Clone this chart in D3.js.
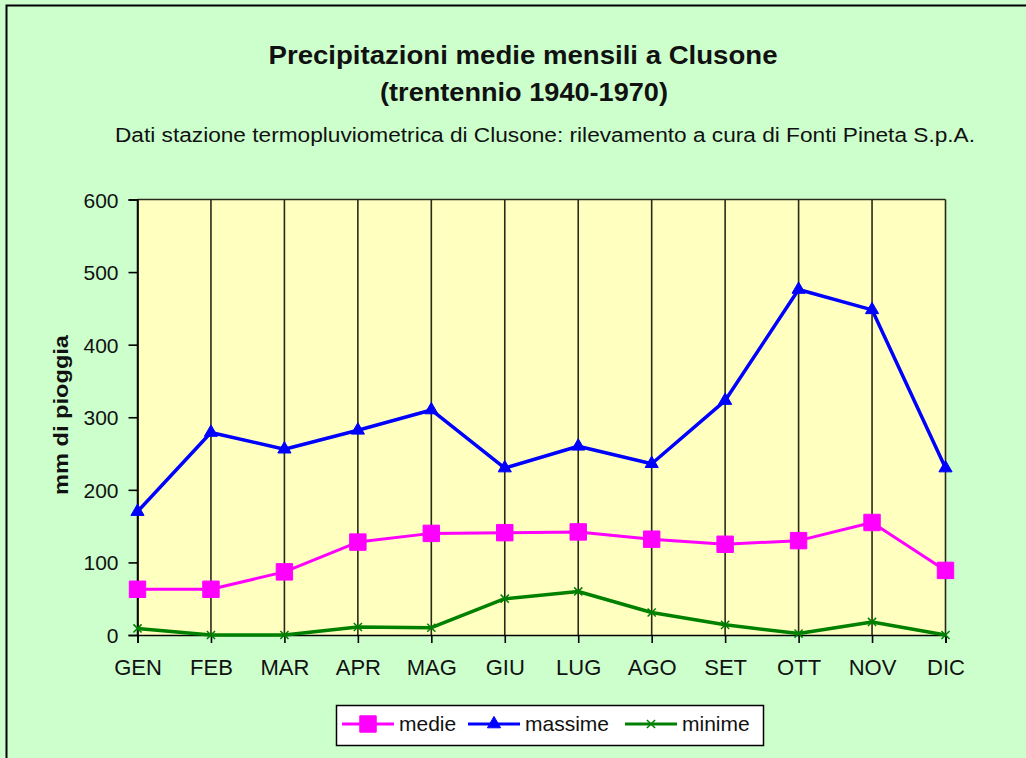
<!DOCTYPE html>
<html>
<head>
<meta charset="utf-8">
<script src="https://cdn.jsdelivr.net/npm/d3@7"></script>
<style>
  body { margin: 0; background: #ccffcc; }
  svg { display: block; font-family: "Liberation Sans", Arial, sans-serif; }
</style>
</head>
<body>
<div id="chart"></div>
<script>
"use strict"

// DATA
const months = ["GEN", "FEB", "MAR", "APR", "MAG", "GIU", "LUG", "AGO", "SET", "OTT", "NOV", "DIC"];
const medie   = [63, 63, 87, 128, 140, 141, 142, 132, 125, 130, 155, 89];
const massime = [170, 279, 256, 282, 310, 230, 260, 236, 323, 476, 448, 230];
const minime  = [9, 0, 0, 11, 10, 50, 60, 31, 14, 2, 18, 0];
const yTicks  = [0, 100, 200, 300, 400, 500, 600];

const series = [
    {name: "medie", values: medie, color: "#ff00ff", marker: "square", width: 3},
    {name: "massime", values: massime, color: "#0000ff", marker: "triangle", width: 3.5},
    {name: "minime", values: minime, color: "#008000", marker: "star", width: 3.5}
];

/* SETUP
 */
const W = 1026, H = 758;
const plot = {left: 137.5, right: 945.5, top: 199.5, bottom: 635};

const svg = d3.select("#chart").append("svg")
    .attr("width", W)
    .attr("height", H);

svg.append("rect")
    .attr("width", W).attr("height", H)
    .attr("fill", "#ccffcc");

// outer frame (only left and top edges visible)
svg.append("path")
    .attr("d", `M6.5,${H} V5.5 H${W}`)
    .attr("fill", "none")
    .attr("stroke", "#000")
    .attr("stroke-width", 2);

const x = d3.scalePoint()
    .domain(months)
    .range([plot.left, plot.right]);

const y = d3.scaleLinear()
    .domain([0, 600])
    .range([plot.bottom, plot.top]);

// plot area
svg.append("rect")
    .attr("x", plot.left).attr("y", plot.top)
    .attr("width", plot.right - plot.left)
    .attr("height", plot.bottom - plot.top)
    .attr("fill", "#ffffc0");

// vertical gridlines
svg.append("g")
    .selectAll("line")
    .data(months)
    .enter().append("line")
    .attr("x1", (d) => x(d)).attr("x2", (d) => x(d))
    .attr("y1", plot.top).attr("y2", plot.bottom)
    .attr("stroke", "#2a2a1a")
    .attr("stroke-width", 1.6);

// top border of the plot
svg.append("line")
    .attr("x1", plot.left).attr("x2", plot.right)
    .attr("y1", plot.top).attr("y2", plot.top)
    .attr("stroke", "#2a2a1a").attr("stroke-width", 1.6);

// axes
const xAxis = svg.append("g")
    .attr("transform", `translate(0,${plot.bottom})`)
    .call(d3.axisBottom(x).tickSize(8).tickPadding(16));

const yAxis = svg.append("g")
    .attr("transform", `translate(${plot.left},0)`)
    .call(d3.axisLeft(y).tickValues(yTicks).tickSize(9).tickPadding(10));

[xAxis, yAxis].forEach((ax) => {
    ax.select(".domain").attr("stroke", "#000").attr("stroke-width", 1.6);
    ax.selectAll(".tick line").attr("stroke", "#000").attr("stroke-width", 1.6);
    ax.selectAll(".tick text")
        .attr("fill", "#111")
        .style("font-size", "21px")
        .style("font-family", "'Liberation Sans', Arial, sans-serif");
});
xAxis.selectAll(".tick text").style("font-size", "22px");
yAxis.selectAll(".tick text").attr("dy", "0.36em");

// lines
const line = d3.line()
    .x((d, i) => x(months[i]))
    .y((d) => y(d));

const markerPath = {
    square: d3.symbol().type(d3.symbolSquare).size(270)(),
    triangle: d3.symbol().type(d3.symbolTriangle).size(75)(),
    star: d3.symbol().type(d3.symbolTimes).size(45)()
};

series.forEach((s) => {
    const g = svg.append("g").attr("class", "series");
    g.append("path")
        .attr("d", line(s.values))
        .attr("fill", "none")
        .attr("stroke", s.color)
        .attr("stroke-width", s.width)
        .attr("stroke-linejoin", "round");
    g.selectAll(".mark")
        .data(s.values)
        .enter().append("path")
        .attr("class", "mark")
        .attr("d", markerPath[s.marker])
        .attr("transform", (d, i) => `translate(${x(months[i])},${y(d)})`)
        .attr("fill", s.color)
        .attr("stroke", s.color)
        .attr("stroke-width", s.marker == "star" ? 1.5 : 1);
});

// text with a fixed width, the original font is rendered wide
function label(cx, cy, txt, size, width, bold) {
    return svg.append("text")
        .attr("x", cx).attr("y", cy)
        .attr("text-anchor", "middle")
        .attr("textLength", width)
        .attr("lengthAdjust", "spacingAndGlyphs")
        .attr("fill", "#111")
        .style("font-size", size + "px")
        .style("font-weight", bold ? "bold" : "normal")
        .text(txt);
}

// titles
label(523, 64, "Precipitazioni medie mensili a Clusone", 25, 509, true);
label(524, 101, "(trentennio 1940-1970)", 25, 288, true);
label(545, 142, "Dati stazione termopluviometrica di Clusone: rilevamento a cura di Fonti Pineta S.p.A.", 20, 860, false);

// y axis label
label(0, 0, "mm di pioggia", 21, 160, true)
    .attr("transform", "translate(68,415) rotate(-90)");

/* LEGEND
 */
const legend = svg.append("g");
legend.append("rect")
    .attr("x", 336.5).attr("y", 705.5)
    .attr("width", 427).attr("height", 40)
    .attr("fill", "#fff")
    .attr("stroke", "#000").attr("stroke-width", 1.5);

const legendX = [342, 468, 625];
series.forEach((s, i) => {
    const lx = legendX[i], ly = 724;
    legend.append("line")
        .attr("x1", lx).attr("x2", lx + 52)
        .attr("y1", ly).attr("y2", ly)
        .attr("stroke", s.color).attr("stroke-width", 3);
    legend.append("path")
        .attr("d", markerPath[s.marker])
        .attr("transform", `translate(${lx + 26},${ly})`)
        .attr("fill", s.color)
        .attr("stroke", s.color)
        .attr("stroke-width", s.marker == "star" ? 1.5 : 1);
    legend.append("text")
        .attr("x", lx + 57).attr("y", ly + 7)
        .attr("fill", "#111")
        .style("font-size", "21px")
        .text(s.name);
});
</script>
</body>
</html>
